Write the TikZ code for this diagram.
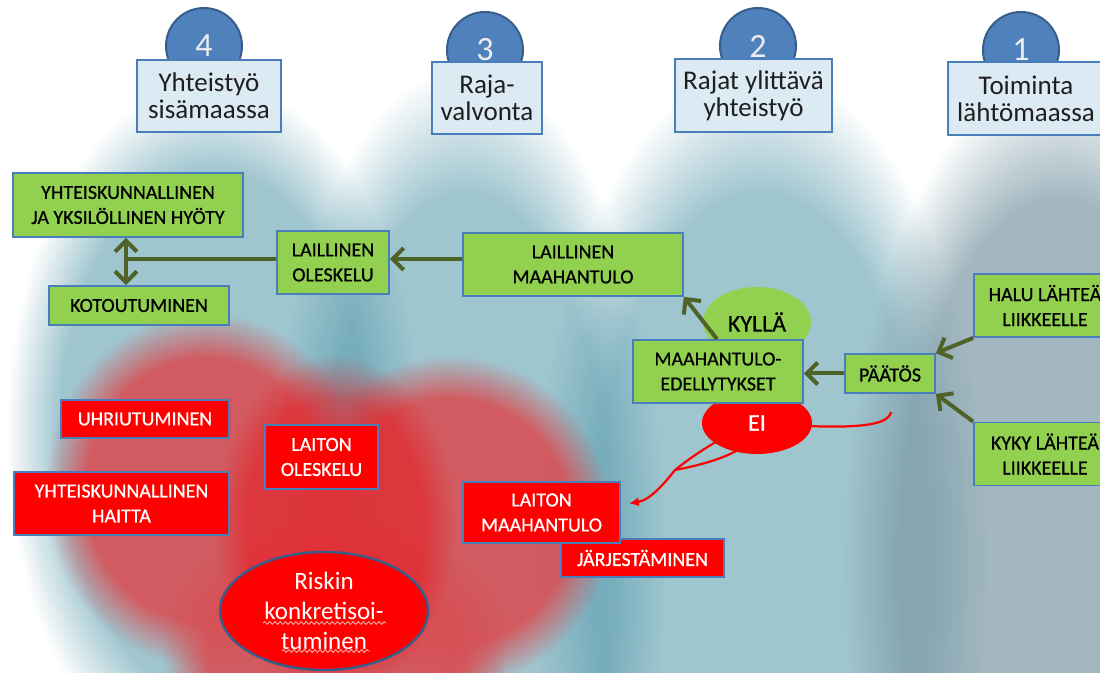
\documentclass[tikz,border=0pt]{standalone}
\usepackage{fontspec}
\setmainfont{Carlito}
\newfontfamily\heavy{Carlito}[BoldFont={Carlito}, BoldFeatures={FakeBold=0.7}]
\usetikzlibrary{arrows.meta,fadings,calc,decorations.pathmorphing,shapes.geometric}
\pgfdeclarelayer{bg}
\pgfdeclarelayer{mid}
\pgfsetlayers{bg,mid,main}
\pgfdeclareradialshading{softshade}{\pgfpointorigin}{color(0bp)=(pgftransparent!0); color(18.5bp)=(pgftransparent!0); color(25bp)=(pgftransparent!100); color(50bp)=(pgftransparent!100)}
\pgfdeclarefading{softedge}{\pgfuseshading{softshade}}
\definecolor{teal0}{RGB}{95,159,176}
\definecolor{grayb}{RGB}{123,153,165}
\definecolor{heartc}{RGB}{215,80,85}
\definecolor{corec}{RGB}{232,21,27}
\definecolor{gfill}{RGB}{146,208,80}
\definecolor{bord}{RGB}{74,126,187}
\definecolor{hfill}{RGB}{220,234,243}
\definecolor{cfill}{RGB}{79,129,189}
\definecolor{cbord}{RGB}{56,93,138}
\definecolor{olive}{RGB}{79,98,40}
\definecolor{rfill}{RGB}{255,0,0}
\definecolor{wavec}{RGB}{245,170,170}
\tikzset{
  every node/.style={inner sep=0pt, align=center},
  gbox/.style={rectangle, fill=gfill, draw=bord, line width=0.9pt, font=\heavy\bfseries\fontsize{10}{12.5}\selectfont, text=black},
  rbox/.style={rectangle, fill=rfill, draw=bord, line width=0.9pt, font=\heavy\bfseries\fontsize{10}{12.5}\selectfont, text=white},
  hbox/.style={rectangle, fill=hfill, draw=bord, line width=0.9pt, font=\fontsize{13.5}{13.5}\selectfont, text=black!88},
  numc/.style={circle, fill=cfill, draw=cbord, line width=1pt, minimum size=38pt, font=\fontsize{17}{17}\selectfont, text=white!85!gray},
  garrow/.style={draw=olive, line width=2pt, -{Straight Barb[length=5.5pt,width=11pt]}},
  garrowboth/.style={draw=olive, line width=2pt, {Straight Barb[length=5.5pt,width=11pt]}-{Straight Barb[length=5.5pt,width=11pt]}},
  gline/.style={draw=olive, line width=2pt},
  redc/.style={draw=rfill, line width=1.1pt},
  blob/.style={path fading=softedge},
  wavy/.style={draw=wavec, line width=0.45pt, decorate, decoration={snake, amplitude=0.7pt, segment length=2.6pt}}
}
\begin{document}
\begin{tikzpicture}[x=0.5pt,y=-0.5pt]
\useasboundingbox (0,0) rectangle (1100,673);

% ---------- background ----------
\begin{pgfonlayer}{bg}
\fill[white] (0,0) rectangle (1100,673);
\fill[teal0, fill opacity=0.6, blob] (213,432) ellipse [x radius=103pt, y radius=175pt];
\fill[teal0, fill opacity=0.6, blob] (465,560) ellipse [x radius=100pt, y radius=246pt];
\fill[teal0, fill opacity=0.6, blob] (760,560) ellipse [x radius=114pt, y radius=246pt];
\fill[grayb, fill opacity=0.7, blob] (1062,565) ellipse [x radius=109pt, y radius=246pt];
% red heart
\fill[heartc, fill opacity=0.9, blob] (205,490) ellipse [x radius=80pt, y radius=88.5pt];
\fill[heartc, fill opacity=0.9, blob] (450,522) ellipse [x radius=81pt, y radius=83pt];
\fill[heartc, fill opacity=0.9, blob] (335,655) ellipse [x radius=86pt, y radius=69pt];
\fill[corec, fill opacity=0.5, blob] (335,525) ellipse [x radius=60pt, y radius=85pt];
\end{pgfonlayer}

% ---------- headers ----------
\node[numc] (c4) at (204,46) {4};
\node[numc] (c3) at (485,50) {3};
\node[numc] (c2) at (758,46) {2};
\node[numc] (c1) at (1021,50) {1};
\node[hbox, minimum width=72pt, minimum height=36pt] (h4) at (209,96) {Yhteistyö\\sisämaassa};
\node[hbox, minimum width=55pt, minimum height=36pt] (h3) at (487,98) {Raja-\\valvonta};
\node[hbox, minimum width=78.5pt, minimum height=36.5pt] (h2) at (753.5,95.5) {Rajat ylittävä\\yhteistyö};
\node[hbox, minimum width=78pt, minimum height=36.5pt] (h1) at (1026,98.5) {Toiminta\\lähtömaassa};

% ---------- ellipses ----------
\node[ellipse, fill=gfill, minimum width=54pt, minimum height=35pt, font=\heavy\bfseries\fontsize{12}{12}\selectfont] (kylla) at (757,322) {KYLLÄ};
\node[ellipse, fill=rfill, text=white, minimum width=55pt, minimum height=31pt, font=\heavy\bfseries\fontsize{12}{12}\selectfont] (ei) at (757,423) {EI};

% ---------- green boxes ----------
\node[gbox, minimum width=115pt, minimum height=32pt] (yhteis) at (128,205) {YHTEISKUNNALLINEN\\JA YKSILÖLLINEN HYÖTY};
\node[gbox, minimum width=90pt, minimum height=19.5pt] (koto) at (139,305.5) {KOTOUTUMINEN};
\node[gbox, minimum width=56pt, minimum height=31.5pt] (lOles) at (333,262.5) {LAILLINEN\\OLESKELU};
\node[gbox, minimum width=110pt, minimum height=31.5pt] (lMaah) at (573,264.5) {LAILLINEN\\MAAHANTULO};
\node[gbox, minimum width=85pt, minimum height=31.5pt] (edell) at (718,371.5) {MAAHANTULO-\\EDELLYTYKSET};
\node[gbox, minimum width=45pt, minimum height=19.5pt] (paatos) at (890,373.5) {PÄÄTÖS};
\node[gbox, minimum width=71pt, minimum height=31.5pt] (halu) at (1045,305.5) {HALU LÄHTEÄ\\LIIKKEELLE};
\node[gbox, minimum width=71pt, minimum height=31.5pt] (kyky) at (1045,454) {KYKY LÄHTEÄ\\LIIKKEELLE};

% ---------- red boxes ----------
\node[rbox, minimum width=84pt, minimum height=19pt] (uhri) at (145,419) {UHRIUTUMINEN};
\node[rbox, minimum width=56.5pt, minimum height=32pt] (lOlesR) at (321.5,457) {LAITON\\OLESKELU};
\node[rbox, minimum width=107.5pt, minimum height=31.5pt] (haitta) at (121.5,503.5) {YHTEISKUNNALLINEN\\HAITTA};
\node[rbox, minimum width=81.5pt, minimum height=19pt] (jarj) at (642.5,558) {JÄRJESTÄMINEN};
\node[rbox, minimum width=78.5pt, minimum height=30.5pt] (lMaahR) at (541.5,512.5) {LAITON\\MAAHANTULO};
\node[ellipse, fill=rfill, draw=cbord, line width=1.2pt, text=white, minimum width=104pt, minimum height=59pt, font=\fontsize{12.5}{15}\selectfont] (riski) at (324,611) {Riskin\\konkretisoi-\\tuminen};
\draw[wavy] ($(riski.center)+(-61,12)$) -- ($(riski.center)+(62,12)$);
\draw[wavy] ($(riski.center)+(-42,40)$) -- ($(riski.center)+(46,40)$);

% ---------- green connectors ----------
\coordinate (jn) at (126,259);
\draw[garrow] (lMaah.west |- jn) -- (lOles.east |- jn);
\draw[gline] (lOles.west |- jn) -- (jn);
\draw[garrowboth] (yhteis.south -| jn) -- (koto.north -| jn);
\draw[garrow] ($(edell.north)+(-1,0)$) -- (lMaah.south east);
\draw[garrow] (paatos.west) -- (paatos.west -| edell.east);
\draw[garrow] (halu.south west) -- (paatos.north east);
\draw[garrow] (kyky.north west) -- (paatos.south east);

% ---------- red connector ----------
\coordinate (rs) at (891,412);
\coordinate (jr) at (675,470);
\coordinate (rt) at ($(lMaahR.east)+(8,-9)$);
\begin{pgfonlayer}{mid}
\draw[redc] (rs) .. controls (888,427) and (850,430) .. (ei.center);
\draw[redc] (ei.center) .. controls (730,432) and (700,450) .. (jr);
\draw[redc] (ei.center) .. controls (760,447) and (718,462) .. (jr);
\draw[redc, -{Latex[length=5pt,width=4.5pt]}] (jr) .. controls (664,484) and (650,500) .. (rt);
\end{pgfonlayer}
\end{tikzpicture}
\end{document}
